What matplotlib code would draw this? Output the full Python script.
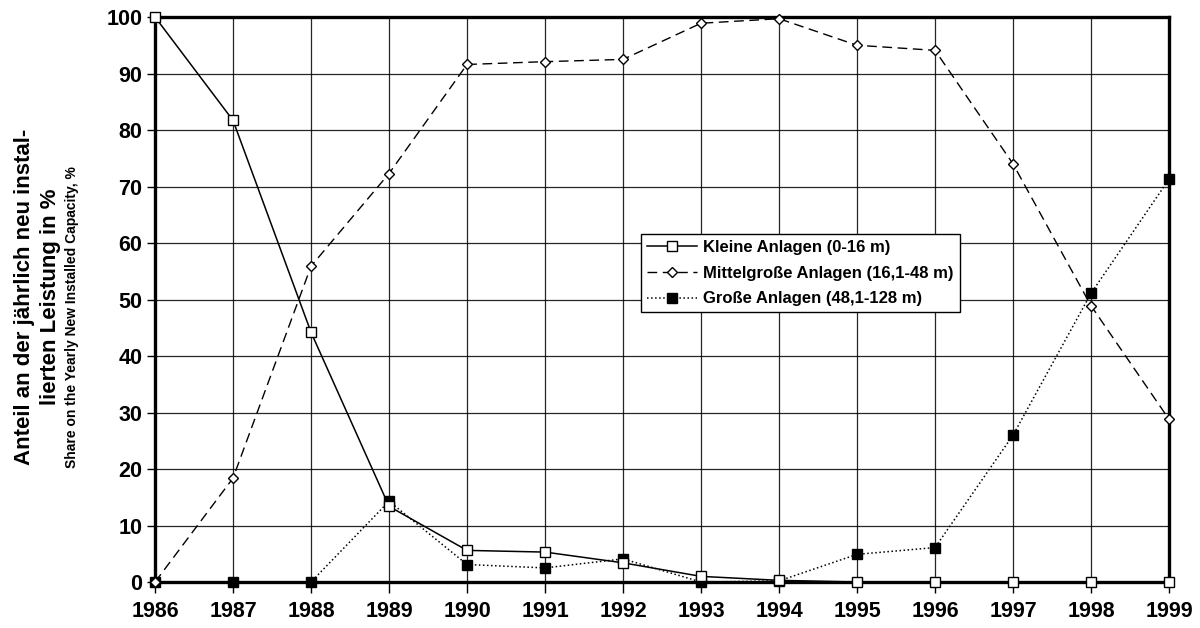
import matplotlib
matplotlib.use("Agg")
import matplotlib.pyplot as plt

plt.rcParams["font.family"] = ["Liberation Sans", "DejaVu Sans"]
plt.rcParams["font.weight"] = "bold"

years = list(range(1986, 2000))
kleine = [100, 81.7, 44.2, 13.4, 5.6, 5.3, 3.4, 1.0, 0.3, 0, 0, 0, 0, 0]
mittel = [0, 18.4, 55.9, 72.3, 91.6, 92.1, 92.5, 98.9, 99.7, 95.0, 94.1, 74.0, 48.9, 28.8]
grosse = [0, 0, 0, 14.3, 3.1, 2.5, 4.1, 0, 0.2, 4.9, 6.1, 26.0, 51.1, 71.3]

labels = ["Kleine Anlagen (0-16 m)",
          "Mittelgroße Anlagen (16,1-48 m)",
          "Große Anlagen (48,1-128 m)"]

fig = plt.figure(figsize=(12, 6.28), dpi=100)
ax = fig.add_axes([0.1292, 0.0732, 0.845, 0.8997])

l3, = ax.plot(years, grosse, color="black", linestyle=":", linewidth=1.1,
              marker="s", markersize=6.5, markerfacecolor="black",
              markeredgecolor="black", clip_on=False, zorder=7)
l2, = ax.plot(years, mittel, color="black", linestyle=(0, (7, 4)), linewidth=1.0,
              marker="D", markersize=5, markerfacecolor="white",
              markeredgecolor="black", markeredgewidth=1.0, clip_on=False, zorder=8)
l1, = ax.plot(years, kleine, color="black", linestyle="-", linewidth=1.1,
              marker="s", markersize=6.5, markerfacecolor="white",
              markeredgecolor="black", markeredgewidth=1.0, clip_on=False, zorder=9)

ax.set_xlim(1986, 1999)
ax.set_ylim(0, 100)
ax.set_xticks(years)
ax.set_yticks(range(0, 101, 10))
ax.tick_params(axis="both", labelsize=15.5, direction="out", width=1.0, colors="black")
ax.tick_params(axis="x", length=8, pad=6)
ax.tick_params(axis="y", length=6, pad=3)
for lab in ax.get_xticklabels() + ax.get_yticklabels():
    lab.set_fontweight("bold")

ax.grid(True, color="black", linewidth=0.9, alpha=0.85)
ax.set_axisbelow(True)
for side in ["left", "bottom", "top", "right"]:
    ax.spines[side].set_linewidth(2.4)
    ax.spines[side].set_zorder(6)

fig.text(0.0205, 0.527, "Anteil an der jährlich neu instal-",
         rotation=90, ha="center", va="center", fontsize=16, fontweight="bold")
fig.text(0.042, 0.527, "lierten Leistung in %",
         rotation=90, ha="center", va="center", fontsize=16, fontweight="bold")
fig.text(0.060, 0.495, "Share on the Yearly New Installed Capacity, %",
         rotation=90, ha="center", va="center", fontsize=10, fontweight="bold")

leg = ax.legend([l1, l2, l3], labels, loc="upper left",
                bbox_to_anchor=(0.479, 0.616), fontsize=12, frameon=True,
                fancybox=False, edgecolor="black", framealpha=1,
                handlelength=3.0, borderpad=0.35, labelspacing=0.65,
                handletextpad=0.4, borderaxespad=0)
leg.get_frame().set_linewidth(1.0)
leg.set_zorder(10)
for t in leg.get_texts():
    t.set_fontweight("bold")

fig.savefig("out.png", dpi=100)
